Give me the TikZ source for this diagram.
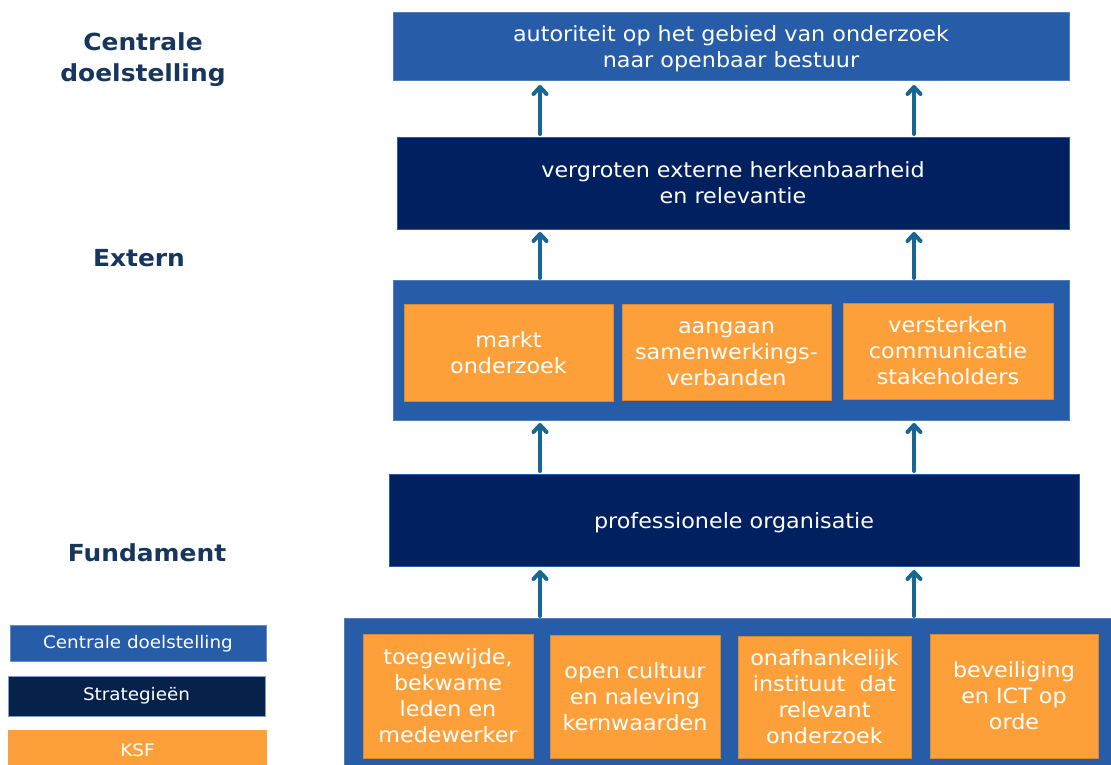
\documentclass[tikz,border=0pt]{standalone}
\usepackage{fontspec}
\setmainfont[FakeStretch=1.06]{DejaVu Sans}
\usetikzlibrary{arrows.meta}
\definecolor{cblue}{RGB}{38,92,168}
\definecolor{navy}{RGB}{0,32,96}
\definecolor{lnavy}{RGB}{6,34,74}
\definecolor{ksf}{RGB}{253,160,58}
\definecolor{arrc}{RGB}{24,102,148}
\definecolor{lbl}{RGB}{23,54,93}
\tikzset{
  box/.style={rectangle, inner sep=0pt, outer sep=0pt, text=white, align=center,
    font=\fontsize{21}{26}\selectfont},
  txt/.style={text=white, align=center, inner sep=0pt, font=\fontsize{21}{26}\selectfont},
  central/.style={box, fill=cblue, draw=cblue!80!white, line width=0.6pt},
  strat/.style={box, fill=navy, draw=cblue, line width=0.8pt},
  kbox/.style={box, fill=ksf, draw=ksf!85!black, line width=0.5pt},
  side/.style={text=lbl, align=center, font=\fontsize{23.5}{31}\selectfont\bfseries},
  legend/.style={box, font=\fontsize{17.3}{20}\selectfont},
  arr/.style={draw=arrc, line width=4pt, -{Straight Barb[length=7pt,width=13pt,round]}, line cap=round}
}
\begin{document}
\begin{tikzpicture}[x=1pt,y=-1pt]
\useasboundingbox (0,0) rectangle (1111,765);
\fill[white] (0,0) rectangle (1111,765);
% main column
\node[central, minimum width=676, minimum height=68,
  label={[txt,yshift=-3pt]center:{autoriteit op het gebied van onderzoek\\naar openbaar bestuur}}] (top) at (731,46) {};
\node[strat, minimum width=672, minimum height=92] (ext) at (733,183) {vergroten externe herkenbaarheid\\en relevantie};
\node[central, minimum width=676, minimum height=140] (cont1) at (731,350) {};
\node[kbox, minimum width=209, minimum height=97] (o1) at (508.5,352.5) {markt\\onderzoek};
\node[kbox, minimum width=209, minimum height=96,
  label={[txt,yshift=-2pt]center:{aangaan\\samenwerkings-\\verbanden}}] (o2) at (726.5,352) {};
\node[kbox, minimum width=210, minimum height=96] (o3) at (948,351) {versterken\\communicatie\\stakeholders};
\node[strat, minimum width=690, minimum height=92,
  label={[txt,yshift=-2.5pt]center:{professionele organisatie}}] (prof) at (734,520) {};
\node[central, minimum width=769, minimum height=149] (cont2) at (728.5,692.5) {};
\node[kbox, minimum width=170, minimum height=124] (k1) at (448,696) {toegewijde,\\bekwame\\leden en\\medewerker};
\node[kbox, minimum width=170, minimum height=123] (k2) at (635,696.5) {open cultuur\\en naleving\\kernwaarden};
\node[kbox, minimum width=173, minimum height=122] (k3) at (824.5,697) {onafhankelijk\\instituut~ dat\\relevant\\onderzoek};
\node[kbox, minimum width=168, minimum height=124] (k4) at (1014,696) {beveiliging\\en ICT op\\orde};
% arrows
\coordinate (a1) at (540,0);
\coordinate (a2) at (914,0);
\foreach \a in {a1,a2}{
  \draw[arr, shorten >=5pt, shorten <=3pt] (ext.north -| \a) -- (top.south -| \a);
  \draw[arr, shorten >=3pt, shorten <=2pt] (cont1.north -| \a) -- (ext.south -| \a);
  \draw[arr, shorten >=3pt, shorten <=3pt] (prof.north -| \a) -- (cont1.south -| \a);
  \draw[arr, shorten >=4pt, shorten <=2pt] (cont2.north -| \a) -- (prof.south -| \a);
}
% side labels
\node[side] (lc) at (143,59.5) {Centrale\\doelstelling};
\node[side] (le) at (139,258.5) {Extern};
\node[side] (lf) at (147,553) {Fundament};
% legend
\node[legend, fill=cblue, draw=cblue!70!white, line width=0.5pt, minimum width=256, minimum height=36] (l1) at (138,643.5) {Centrale doelstelling};
\node[legend, fill=lnavy, draw=cblue!60!white, line width=0.5pt, minimum width=257, minimum height=40] (l2) at (136.5,696) {Strategieën};
\node[legend, fill=ksf, minimum width=259, minimum height=40] (l3) at (137.5,750) {KSF};
\end{tikzpicture}
\end{document}
